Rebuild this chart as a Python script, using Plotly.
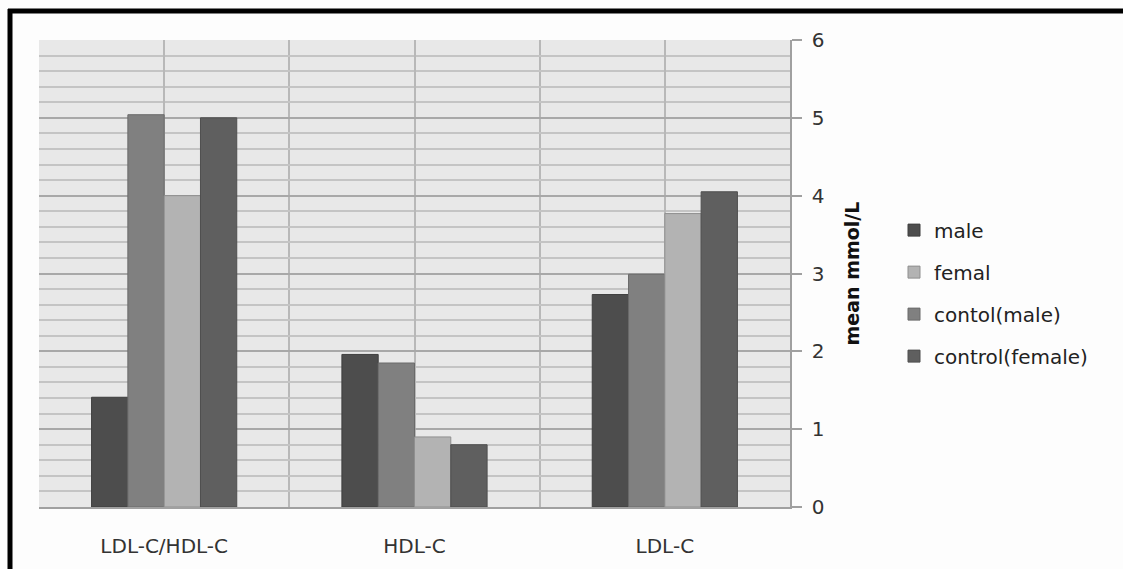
import plotly.graph_objects as go

categories = ["LDL-C/HDL-C", "HDL-C", "LDL-C"]
cat_pos = [0, 1, 2]

# series in the order the bars are drawn within each group
series_names = ["male", "contol(male)", "femal", "control(female)"]
male = [1.41, 1.96, 2.73]
contol_male = [5.04, 1.85, 2.99]
femal = [4.00, 0.90, 3.77]
control_female = [5.00, 0.80, 4.05]
series_values = [male, contol_male, femal, control_female]

colors = ["#4d4d4d", "#808080", "#b3b3b3", "#5f5f5f"]
edge_colors = ["#3f3f3f", "#6a6a6a", "#8f8f8f", "#4f4f4f"]
legend_ranks = [1, 3, 2, 4]

y_ticks = [0, 1, 2, 3, 4, 5, 6]

FONT = "DejaVu Sans, sans-serif"

fig = go.Figure()
for name, vals, c, ec, rk in zip(series_names, series_values, colors, edge_colors, legend_ranks):
    fig.add_trace(go.Bar(
        x=cat_pos, y=vals, name=name,
        marker=dict(color=c, line=dict(color=ec, width=1)),
        legendrank=rk, legendgroup=name,
    ))

fig.update_layout(
    width=1123, height=569,
    margin=dict(l=39, r=333, t=40, b=62),
    paper_bgcolor="#fdfdfd",
    plot_bgcolor="#e8e8e8",
    barmode="group", bargap=0.42, bargroupgap=0,
    font=dict(family=FONT, color="#333333"),
    showlegend=True,
    legend=dict(
        x=1.1385, xanchor="left", y=0.458, yanchor="middle",
        font=dict(size=20, color="#222222", family=FONT),
        tracegroupgap=13, traceorder="grouped",
        bgcolor="rgba(0,0,0,0)",
    ),
    xaxis=dict(
        range=[-0.5, 2.5],
        tickvals=cat_pos, ticktext=categories,
        showgrid=True, gridcolor="#b8b8b8", gridwidth=1.5,
        minor=dict(tickvals=[-0.5, 0.5, 1.5, 2.5], showgrid=True, gridcolor="#b8b8b8", gridwidth=1.5),
        zeroline=False,
        showline=True, linecolor="#a0a0a0", linewidth=1.5,
        ticks="", ticklabelstandoff=20,
        tickfont=dict(size=20, color="#333333", family=FONT),
    ),
    yaxis=dict(
        side="right", range=[0, 6],
        tickvals=y_ticks,
        showgrid=True, gridcolor="#a8a8a8", gridwidth=2,
        minor=dict(dtick=0.2, showgrid=True, gridcolor="#c4c4c4", gridwidth=2),
        zeroline=False,
        showline=True, linecolor="#a0a0a0", linewidth=1.5,
        ticks="outside", ticklen=10, tickcolor="#a0a0a0", tickwidth=1.5,
        ticklabelstandoff=6,
        tickfont=dict(size=20, color="#333333", family=FONT),
        title=dict(text="<b>mean mmol/L</b>", font=dict(size=19, color="#111111", family=FONT), standoff=22),
    ),
)

# outer black frame (left and top edges)
def px_x(p):
    return (p - 39) / 751

def px_y(p):
    return (507 - p) / 467

fig.add_shape(type="line", xref="paper", yref="paper",
              x0=px_x(10), x1=px_x(10), y0=px_y(9), y1=px_y(569),
              line=dict(color="black", width=5), layer="below")
fig.add_shape(type="line", xref="paper", yref="paper",
              x0=px_x(8), x1=px_x(1123), y0=px_y(11), y1=px_y(11),
              line=dict(color="black", width=5), layer="below")

fig.write_html("out.html", config={"displayModeBar": False},
               post_script="document.body.style.margin='0';")
